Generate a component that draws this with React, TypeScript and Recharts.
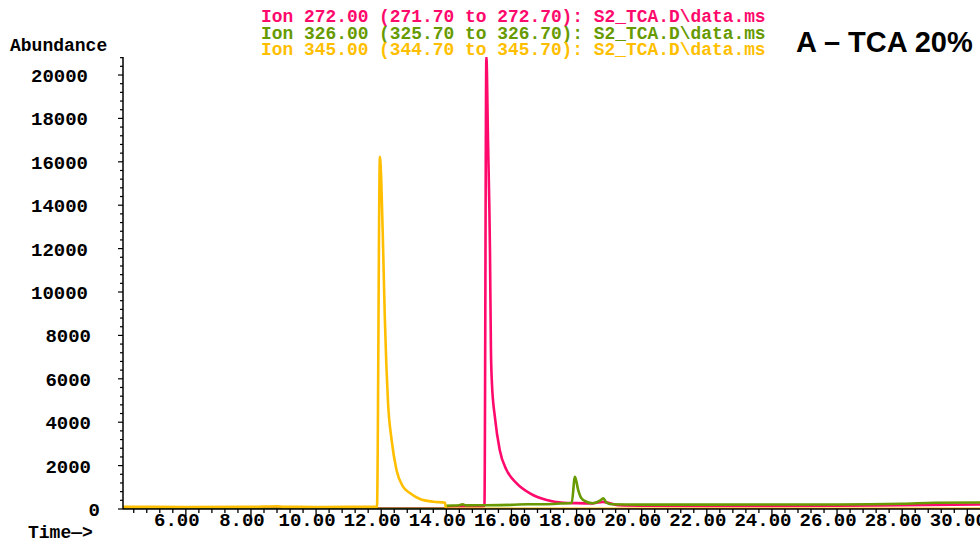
import { LineChart, Line, XAxis, YAxis } from 'recharts';

// Ion 345.00 trace (yellow)
const ion345 = [
  { t: 4.07, v: 100 }, { t: 6, v: 95 }, { t: 8, v: 100 }, { t: 8.8, v: 130 }, { t: 9, v: 100 },
  { t: 10, v: 95 }, { t: 11, v: 100 }, { t: 11.87, v: 100 }, { t: 11.96, v: 16234 },
  { t: 12.0, v: 15200 }, { t: 12.06, v: 11935 }, { t: 12.11, v: 8861 }, { t: 12.16, v: 6557 },
  { t: 12.21, v: 4885 }, { t: 12.32, v: 3180 }, { t: 12.47, v: 1797 }, { t: 12.67, v: 1028 },
  { t: 12.88, v: 737 }, { t: 13.19, v: 461 }, { t: 13.6, v: 336 }, { t: 13.96, v: 290 },
  { t: 13.99, v: 15 }, { t: 16, v: 12 }, { t: 20, v: 12 }, { t: 25, v: 12 }, { t: 30.4, v: 12 },
];

// Ion 326.00 trace (green)
const ion326 = [
  { t: 4.07, v: 10 }, { t: 8, v: 12 }, { t: 12, v: 10 }, { t: 13.99, v: 10 }, { t: 14.0, v: 150 },
  { t: 14.4, v: 170 }, { t: 14.5, v: 220 }, { t: 14.6, v: 165 }, { t: 15, v: 170 }, { t: 16, v: 190 },
  { t: 16.5, v: 220 }, { t: 17, v: 220 }, { t: 17.5, v: 250 }, { t: 17.85, v: 280 },
  { t: 17.95, v: 1488 }, { t: 18.05, v: 875 }, { t: 18.15, v: 493 }, { t: 18.3, v: 336 },
  { t: 18.5, v: 263 }, { t: 18.72, v: 382 }, { t: 18.82, v: 493 }, { t: 18.92, v: 290 },
  { t: 19.07, v: 216 }, { t: 20, v: 200 }, { t: 22, v: 200 }, { t: 24, v: 210 }, { t: 26, v: 210 },
  { t: 28, v: 240 }, { t: 29, v: 290 }, { t: 30.4, v: 300 },
];

// Ion 272.00 trace (magenta)
const ion272 = [
  { t: 4.07, v: 20 }, { t: 13.99, v: 20 }, { t: 14.0, v: 120 }, { t: 15, v: 130 },
  { t: 15.17, v: 140 }, { t: 15.23, v: 20830 }, { t: 15.28, v: 17000 }, { t: 15.34, v: 11935 },
  { t: 15.37, v: 7327 }, { t: 15.4, v: 5806 }, { t: 15.49, v: 4253 }, { t: 15.64, v: 2718 },
  { t: 15.85, v: 1797 }, { t: 16.16, v: 1184 }, { t: 16.57, v: 723 }, { t: 17.08, v: 415 },
  { t: 17.59, v: 290 }, { t: 18, v: 270 }, { t: 18.5, v: 260 }, { t: 18.8, v: 330 },
  { t: 19, v: 280 }, { t: 19.3, v: 170 }, { t: 20, v: 150 }, { t: 22, v: 140 }, { t: 24, v: 140 },
  { t: 26, v: 150 }, { t: 28, v: 170 }, { t: 30.4, v: 210 },
];

const xLabels = [6, 8, 10, 12, 14, 16, 18, 20, 22, 24, 26, 28, 30];
const yLabels = [0, 2000, 4000, 6000, 8000, 10000, 12000, 14000, 16000, 18000, 20000];

const legendLines = [
  { text: 'Ion 272.00 (271.70 to 272.70): S2_TCA.D\\data.ms', color: '#ff0a6c' },
  { text: 'Ion 326.00 (325.70 to 326.70): S2_TCA.D\\data.ms', color: '#679a00' },
  { text: 'Ion 345.00 (344.70 to 345.70): S2_TCA.D\\data.ms', color: '#ffbf00' },
];

const X_MIN = 4.07;
const X_MAX = 30.39;
const Y_MAX = 20830;

const xTicks: number[] = [];
for (let k = 0; 4.4 + 0.4 * k <= X_MAX; k++) xTicks.push(Math.round((4.4 + 0.4 * k) * 10) / 10);
const yTicks: number[] = [];
for (let k = 0; 400 * k <= Y_MAX; k++) yTicks.push(400 * k);

const mono = '"Liberation Mono", monospace';

const XTick = (props: any) => {
  const { x, y, payload } = props;
  const major = xLabels.includes(payload.value);
  return (
    <g>
      <line x1={x} x2={x} y1={y} y2={y + (major ? 7 : 4)} stroke="#000" strokeWidth={1.3} />
      {major && (
        <text x={x - 9} y={y + 12} textAnchor="middle" dominantBaseline="central"
          fontFamily={mono} fontWeight="bold" fontSize={19} fill="#000">
          {payload.value.toFixed(2)}
        </text>
      )}
    </g>
  );
};

const YTick = (props: any) => {
  const { x, y, payload } = props;
  const major = yLabels.includes(payload.value);
  const label = String(payload.value);
  return (
    <g>
      <line x1={x} x2={x - (major ? 5 : 3)} y1={y} y2={y} stroke="#000" strokeWidth={1.2} />
      {major && (
        <text x={x - 35 + (5 - label.length) * 3} y={y + 2} textAnchor="end" dominantBaseline="central"
          fontFamily={mono} fontWeight="bold" fontSize={19} fill="#000">
          {label}
        </text>
      )}
    </g>
  );
};

export default function App() {
  return (
    <div style={{ position: 'fixed', left: 0, top: 0, width: 980, height: 539, background: '#fff', overflow: 'hidden' }}>
      <LineChart width={980} height={539} margin={{ top: 57, right: 0, bottom: 0, left: 0 }}>
        <XAxis
          type="number"
          dataKey="t"
          domain={[X_MIN, X_MAX]}
          ticks={xTicks}
          interval={0}
          tick={<XTick />}
          tickLine={false}
          tickSize={0}
          tickMargin={0}
          height={30}
          axisLine={{ stroke: '#000', strokeWidth: 1.5 }}
          allowDataOverflow
        />
        <YAxis
          type="number"
          dataKey="v"
          domain={[0, Y_MAX]}
          ticks={yTicks}
          interval={0}
          tick={<YTick />}
          tickLine={false}
          tickSize={0}
          tickMargin={0}
          width={123}
          axisLine={{ stroke: '#000', strokeWidth: 1.5 }}
          allowDataOverflow
        />
        <Line data={ion272} dataKey="v" type="monotone" stroke="#ff0a6c" strokeWidth={2.6} dot={false} isAnimationActive={false} />
        <Line data={ion326} dataKey="v" type="monotone" stroke="#679a00" strokeWidth={2.6} dot={false} isAnimationActive={false} />
        <Line data={ion345} dataKey="v" type="monotone" stroke="#ffbf00" strokeWidth={2.6} dot={false} isAnimationActive={false} />
      </LineChart>
      {legendLines.map((l, i) => (
        <div key={l.text} style={{
          position: 'absolute', left: 261, top: 9 + i * 16.5, fontFamily: mono, fontWeight: 'bold',
          fontSize: 17.9, lineHeight: '16px', color: l.color, whiteSpace: 'pre',
        }}>{l.text}</div>
      ))}
      <div style={{ position: 'absolute', left: 10, top: 38, fontFamily: mono, fontWeight: 'bold', fontSize: 18, lineHeight: '16px', color: '#000' }}>
        Abundance
      </div>
      <div style={{ position: 'absolute', left: 28, top: 527, fontFamily: mono, fontWeight: 'bold', fontSize: 18, lineHeight: '12px', color: '#000', whiteSpace: 'pre' }}>
        Time—&gt;
      </div>
      <div style={{ position: 'absolute', left: 796, top: 26, fontFamily: '"Liberation Sans", Arial, sans-serif', fontWeight: 'bold', fontSize: 29, lineHeight: '32px', color: '#000', whiteSpace: 'pre' }}>
        A – TCA 20%
      </div>
    </div>
  );
}
